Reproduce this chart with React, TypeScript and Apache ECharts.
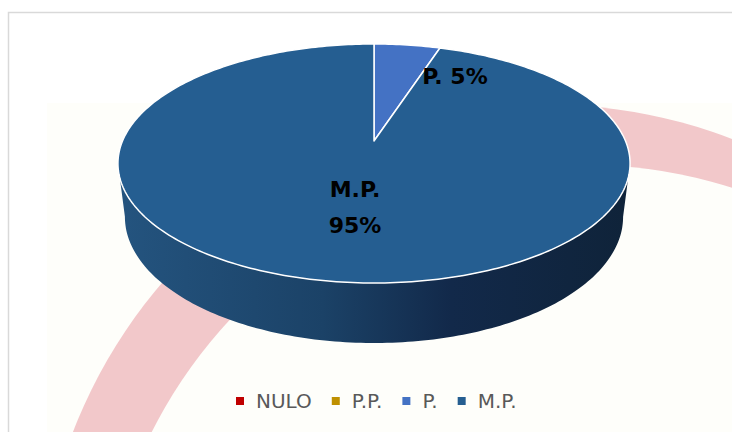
import React, { useEffect, useRef } from "react";
import * as echarts from "echarts";

// ---- data ----
const categories = ["NULO", "P.P.", "P.", "M.P."];
const values = [0, 0, 5, 95];
const colors = ["#C00000", "#BF9000", "#4472C4", "#255E91"];

// ---- layout (not data) ----
const CX = 374;
const CY0 = 141;
const A = 251.5;
const B = 115.3;
const K = 0.188;
const KZ = 0.027;
const H = 54.2;
const labelPos: Record<string, [number, number, string]> = {
  "P.": [455, 76, " "],
  "M.P.": [355, 207, "\n"],
};

function proj(thetaDeg: number, r: number, z: number): number[] {
  const t = (thetaDeg * Math.PI) / 180;
  const u = r * Math.sin(t);
  const v = r * Math.cos(t);
  const w = 1 + K * v + KZ * z;
  return [CX + (A * u) / w, CY0 + (-B * v + H * z) / w];
}

function extremeDeg(z: number): number {
  const c = 1 + KZ * z;
  return (Math.acos(-K / c) * 180) / Math.PI;
}

function arc(a: number, b: number, r: number, z: number): number[][] {
  const pts: number[][] = [];
  const n = Math.max(2, Math.ceil(Math.abs(b - a) / 1));
  for (let i = 0; i <= n; i++) pts.push(proj(a + ((b - a) * i) / n, r, z));
  return pts;
}

const total = values.reduce((s, v) => s + v, 0);
const starts: number[] = [];
{
  let acc = 0;
  for (const v of values) {
    starts.push((acc / total) * 360);
    acc += v;
  }
}

const sideGradient = {
  type: "linear",
  x: 118,
  y: 0,
  x2: 630,
  y2: 0,
  global: true,
  colorStops: [
    { offset: 0, color: "#24547F" },
    { offset: 0.4, color: "#1B4267" },
    { offset: 0.65, color: "#12294A" },
    { offset: 1, color: "#0F2339" },
  ],
};

export default function App() {
  const ref = useRef<HTMLDivElement>(null);
  useEffect(() => {
    if (!ref.current) return;
    const chart = echarts.init(ref.current, null, { renderer: "svg" });
    const series = categories.map((name, i) => ({
      type: "custom",
      name,
      coordinateSystem: "none",
      silent: true,
      itemStyle: { color: colors[i] },
      data: [[values[i]]],
      renderItem: () => {
        const children: any[] = [];
        const a0 = starts[i];
        const a1 = a0 + (values[i] / total) * 360;
        if (a1 - a0 <= 0) return { type: "group", children };
        const tR = extremeDeg(0);
        const tL = 360 - tR;
        const bR = extremeDeg(1);
        const bL = 360 - bR;
        const s0 = Math.max(a0, tR), s1 = Math.min(a1, tL);
        if (s1 > s0) {
          const b0 = Math.max(a0, bR), b1 = Math.min(a1, bL);
          const top = arc(s0, s1, 1, 0);
          const bot = arc(b0, b1, 1, 1).reverse();
          children.push({
            type: "polygon",
            z2: 1,
            shape: { points: top.concat(bot) },
            style: { fill: sideGradient, stroke: null },
          });
        }
        const pts = [proj(0, 0, 0)].concat(arc(a0, a1, 1, 0));
        children.push({
          type: "polygon",
          z2: 5,
          shape: { points: pts },
          style: { fill: colors[i], stroke: "#FFFFFF", lineWidth: 1.5, lineJoin: "round" },
        });
        const lp = labelPos[name];
        if (lp) {
          const pct = Math.round((values[i] / total) * 100) + "%";
          children.push({
            type: "text",
            z2: 100,
            style: {
              text: name + lp[2] + pct,
              x: lp[0],
              y: lp[1],
              fill: "#000000",
              fontFamily: "DejaVu Sans",
              fontWeight: "bold",
              fontSize: 22,
              lineHeight: 36,
              align: "center",
              verticalAlign: "middle",
            },
          });
        }
        return { type: "group", children };
      },
    }));

    chart.setOption({
      animation: false,
      backgroundColor: "#FFFFFF",
      graphic: [
        { type: "rect", z: -10, shape: { x: 47, y: 103, width: 720, height: 360 }, style: { fill: "#FEFEFA" } },
        { type: "circle", z: -9, shape: { cx: 549, cy: 615, r: 510 }, style: { fill: "#F2C8CA" } },
        { type: "circle", z: -8, shape: { cx: 585, cy: 650, r: 485 }, style: { fill: "#FEFEFA" } },
        { type: "rect", z: -7, shape: { x: 8.5, y: 12.5, width: 1000, height: 1000 }, style: { fill: "none", stroke: "#D9D9D9", lineWidth: 1.5 } },
      ],
      legend: {
        left: 231,
        top: 386,
        icon: "rect",
        itemWidth: 8,
        itemHeight: 8,
        itemGap: 20,
        data: categories,
        textStyle: { fontFamily: "DejaVu Sans", fontSize: 20, color: "#595959", padding: [0, 0, 0, 7] },
      },
      series,
    });
    return () => chart.dispose();
  }, []);
  return <div ref={ref} style={{ position: "fixed", left: 0, top: 0, width: 732, height: 432 }} />;
}
